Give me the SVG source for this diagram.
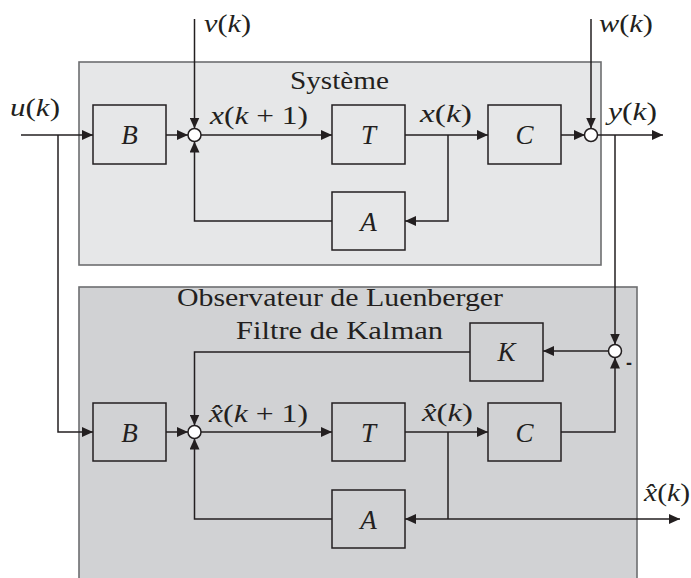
<svg xmlns="http://www.w3.org/2000/svg" width="691" height="578" viewBox="0 0 691 578">
<defs>
<marker id="arr" markerUnits="userSpaceOnUse" markerWidth="12" markerHeight="10" refX="11" refY="5" orient="auto">
<path d="M0,0 L11,5 L0,10 z" fill="#231f20"/>
</marker>
<style>
.frame1{fill:#e6e7e8;stroke:#6d6e70;stroke-width:1.6}
.frame2{fill:#d1d2d4;stroke:#6d6e70;stroke-width:1.6}
.blk{fill:none;stroke:#231f20;stroke-width:1.5}
.sum{fill:#ffffff;stroke:#231f20;stroke-width:1.5}
.w{fill:none;stroke:#231f20;stroke-width:1.5}
.a{marker-end:url(#arr)}
.t{font-family:"Liberation Serif","DejaVu Serif",serif;fill:#231f20;font-size:25px}
.m{font-family:"Liberation Serif","DejaVu Serif",serif;font-style:italic;fill:#231f20;font-size:27px}
.ml{font-family:"Liberation Serif","DejaVu Serif",serif;fill:#231f20;font-size:25px}
.ml .i{font-style:italic}
</style>
</defs>
<g id="systeme">
<rect class="frame1" x="79" y="62" width="522" height="203"/>
<text class="t" x="290" y="89" textLength="99" lengthAdjust="spacingAndGlyphs">Système</text>
</g>
<g id="observateur">
<rect class="frame2" x="79" y="287" width="558" height="300"/>
<text class="t" x="177" y="306" textLength="326" lengthAdjust="spacingAndGlyphs">Observateur de Luenberger</text>
<text class="t" x="236" y="339" textLength="207" lengthAdjust="spacingAndGlyphs">Filtre de Kalman</text>
</g>
<g id="connectors">
<path class="w a" d="M21,135 H93"/>
<path class="w a" d="M166,135 H188"/>
<path class="w a" d="M194.5,19 V128.5"/>
<path class="w a" d="M201,135 H332"/>
<path class="w a" d="M405,135 H488"/>
<path class="w a" d="M448,135 V221 H405"/>
<path class="w a" d="M332,221 H194.5 V141.5"/>
<path class="w a" d="M561,135 H585"/>
<path class="w a" d="M591,19 V128.5"/>
<path class="w a" d="M597.5,135 H663"/>
<path class="w a" d="M615,135 V344.5"/>
<path class="w a" d="M58,135 V432 H93"/>
<path class="w a" d="M166,432 H188"/>
<path class="w a" d="M470,352 H194.5 V425.5"/>
<path class="w a" d="M201,432 H332"/>
<path class="w a" d="M405,432 H488"/>
<path class="w" d="M448,432 V519"/>
<path class="w a" d="M448,519 H405"/>
<path class="w a" d="M448,519 H680"/>
<path class="w a" d="M332,519 H194.5 V438.5"/>
<path class="w a" d="M561,432 H615 V357.5"/>
<path class="w a" d="M608.5,351 H543"/>
</g>
<g id="sum1"><circle class="sum" cx="194.5" cy="135" r="6.5"/></g>
<g id="sum2"><circle class="sum" cx="591" cy="135" r="6.5"/></g>
<g id="sum3"><circle class="sum" cx="615" cy="351" r="6.5"/>
<text x="626" y="369" font-family="Liberation Sans, sans-serif" font-size="18" font-weight="bold" fill="#231f20">-</text></g>
<g id="sum4"><circle class="sum" cx="194.5" cy="432" r="6.5"/></g>
<g id="B1"><rect class="blk" x="93" y="105" width="73" height="59"/><text class="m" x="129.5" y="144" text-anchor="middle">B</text></g>
<g id="T1"><rect class="blk" x="332" y="105" width="73" height="59"/><text class="m" x="368.5" y="144" text-anchor="middle">T</text></g>
<g id="C1"><rect class="blk" x="488" y="105" width="73" height="59"/><text class="m" x="524.5" y="144" text-anchor="middle">C</text></g>
<g id="A1"><rect class="blk" x="332" y="192" width="73" height="58"/><text class="m" x="368.5" y="231" text-anchor="middle">A</text></g>
<g id="B2"><rect class="blk" x="93" y="403" width="73" height="58"/><text class="m" x="129.5" y="442" text-anchor="middle">B</text></g>
<g id="T2"><rect class="blk" x="332" y="403" width="73" height="58"/><text class="m" x="368.5" y="442" text-anchor="middle">T</text></g>
<g id="C2"><rect class="blk" x="488" y="403" width="73" height="58"/><text class="m" x="524.5" y="442" text-anchor="middle">C</text></g>
<g id="A2"><rect class="blk" x="332" y="490" width="73" height="58"/><text class="m" x="368.5" y="529" text-anchor="middle">A</text></g>
<g id="K"><rect class="blk" x="470" y="323" width="73" height="58"/><text class="m" x="506.5" y="361" text-anchor="middle">K</text></g>
<g id="labels">
<text class="ml" x="10" y="116" textLength="50" lengthAdjust="spacingAndGlyphs"><tspan class="i">u</tspan>(<tspan class="i">k</tspan>)</text>
<text class="ml" x="204" y="32" textLength="47" lengthAdjust="spacingAndGlyphs"><tspan class="i">v</tspan>(<tspan class="i">k</tspan>)</text>
<text class="ml" x="599" y="32" textLength="54" lengthAdjust="spacingAndGlyphs"><tspan class="i">w</tspan>(<tspan class="i">k</tspan>)</text>
<text class="ml" x="608" y="120" textLength="49" lengthAdjust="spacingAndGlyphs"><tspan class="i">y</tspan>(<tspan class="i">k</tspan>)</text>
<text class="ml" x="210" y="124" textLength="98" lengthAdjust="spacingAndGlyphs"><tspan class="i">x</tspan>(<tspan class="i">k</tspan> + 1)</text>
<text class="ml" x="420" y="122" textLength="52" lengthAdjust="spacingAndGlyphs"><tspan class="i">x</tspan>(<tspan class="i">k</tspan>)</text>
<text class="ml" x="209" y="422" textLength="99" lengthAdjust="spacingAndGlyphs"><tspan class="i">x̂</tspan>(<tspan class="i">k</tspan> + 1)</text>
<text class="ml" x="422" y="421" textLength="51" lengthAdjust="spacingAndGlyphs"><tspan class="i">x̂</tspan>(<tspan class="i">k</tspan>)</text>
<text class="ml" x="644" y="501" textLength="46" lengthAdjust="spacingAndGlyphs"><tspan class="i">x̂</tspan>(<tspan class="i">k</tspan>)</text>
</g>
</svg>
